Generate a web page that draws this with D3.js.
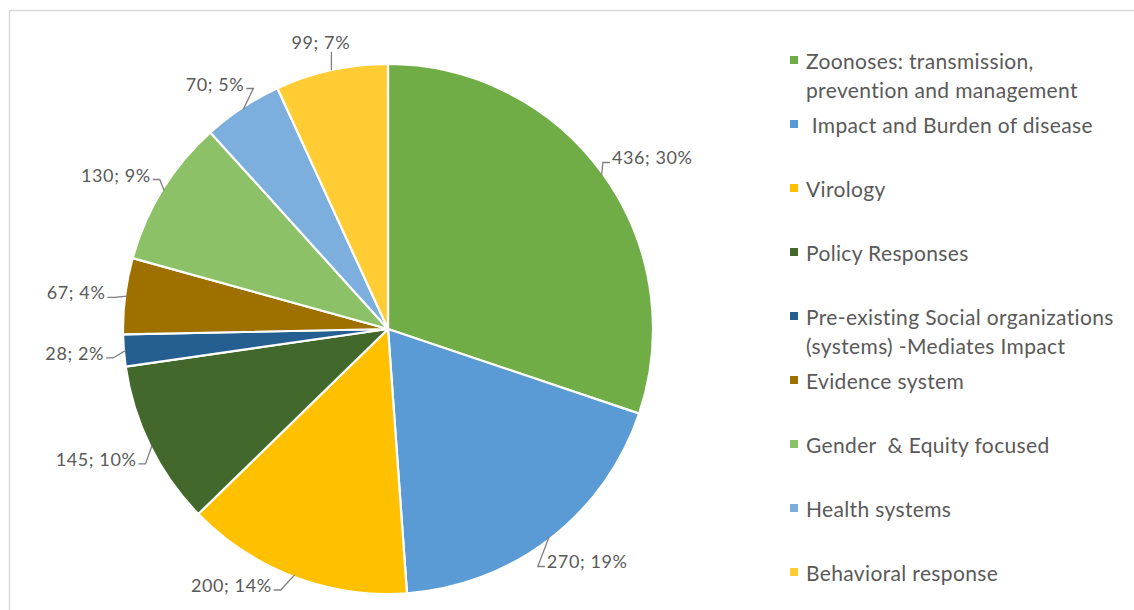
<!DOCTYPE html>
<html>
<head>
<meta charset="utf-8">
<script src="https://cdn.jsdelivr.net/npm/d3@7"></script>
<style>
  body { margin: 0; background: #fff; }
  text { font-family: Lato, "Open Sans", sans-serif; fill: #595959; }
</style>
</head>
<body>
<div class="pie-figure"></div>
<script>
const w = 1134;
const h = 610;

// data
const categories = [
    "Zoonoses: transmission,|prevention and management",
    " Impact and Burden of disease",
    "Virology",
    "Policy Responses",
    "Pre-existing Social organizations|(systems) -Mediates Impact",
    "Evidence system",
    "Gender  & Equity focused",
    "Health systems",
    "Behavioral response"
];
const counts = [436, 270, 200, 145, 28, 67, 130, 70, 99];
const pctLabels = ["30%", "19%", "14%", "10%", "2%", "4%", "9%", "5%", "7%"];
const colors = ["#70AD47", "#5B9BD5", "#FFC000", "#43682B", "#255E91",
                "#9E7000", "#8CC168", "#7CAFDD", "#FFCD33"];

const cx = 388, cy = 329, r = 265;
const off = 20;       // gap between pie edge and label box
const lblH = 18;
const maxY = 594;

let svg = d3.select("body").select(".pie-figure")
    .append("svg")
    .attr("width", w)
    .attr("height", h);

// chart border (right/bottom edges sit outside the window)
svg.append("rect")
    .attr("x", 9.5).attr("y", 10.5)
    .attr("width", w).attr("height", h)
    .attr("fill", "none")
    .attr("stroke", "#D9D9D9")
    .attr("stroke-width", 1.5);

let pie = d3.pie().sort(null).value(d => d);
let arcs = pie(counts);
let arc = d3.arc().innerRadius(0).outerRadius(r);

let g = svg.append("g").attr("transform", `translate(${cx},${cy})`);

g.selectAll("path.slice")
    .data(arcs)
    .enter()
    .append("path")
    .attr("class", "slice")
    .attr("d", arc)
    .attr("fill", (d, i) => colors[i])
    .attr("stroke", "#fff")
    .attr("stroke-width", 2.2)
    .attr("stroke-linejoin", "round");

// data labels with leader lines
let labels = svg.append("g");
arcs.forEach((d, i) => {
    let a = (d.startAngle + d.endAngle) / 2;
    let ux = Math.sin(a), uy = -Math.cos(a);
    let ex = cx + r * ux, ey = cy + r * uy;
    let Rl = r + off;
    let lx = cx + Rl * ux, ly = cy + Rl * uy;

    let t = labels.append("text")
        .attr("font-size", 18)
        .attr("letter-spacing", 0.6)
        .attr("dominant-baseline", "central")
        .text(counts[i] + "; " + pctLabels[i]);
    let tw = t.node().getComputedTextLength();

    let bx = lx - tw * (1 - ux) / 2;
    let by = ly - lblH * (1 - uy) / 2;
    if (by + lblH > maxY) {
        by = maxY - lblH;
        let dy = by - cy;
        let dx = Math.sqrt(Math.max(0, (r + 8) * (r + 8) - dy * dy));
        bx = ux < 0 ? cx - dx - tw : cx + dx;
    }
    t.attr("x", bx).attr("y", by + lblH / 2);

    let pts;
    if (Math.abs(ux) < 0.25) {
        pts = [[ex, ey], [ex, uy < 0 ? by + lblH + 1 : by - 1]];
    } else {
        let ay = by + lblH / 2 + 5;
        let ax = ux > 0 ? bx - 2 : bx + tw + 2;
        let kx = ux > 0 ? ax - 7 : ax + 7;
        pts = [[ex - ux * 2, ey - uy * 2], [kx, ay], [ax, ay]];
    }
    labels.append("path")
        .attr("d", d3.line()(pts))
        .attr("fill", "none")
        .attr("stroke", "#7F7F7F")
        .attr("stroke-width", 1.3);
});

// legend
let legend = svg.append("g").attr("transform", "translate(790, 0)");
categories.forEach((c, i) => {
    let y0 = 60 + i * 64;
    legend.append("rect")
        .attr("x", 0).attr("y", y0 - 4)
        .attr("width", 8).attr("height", 8)
        .attr("fill", colors[i]);
    c.split("|").forEach((line, j) => {
        legend.append("text")
            .attr("x", 16)
            .attr("y", y0 + j * 29)
            .attr("dominant-baseline", "central")
            .attr("font-size", 21)
            .attr("letter-spacing", 0.35)
            .style("white-space", "pre")
            .text(line);
    });
});
</script>
</body>
</html>
